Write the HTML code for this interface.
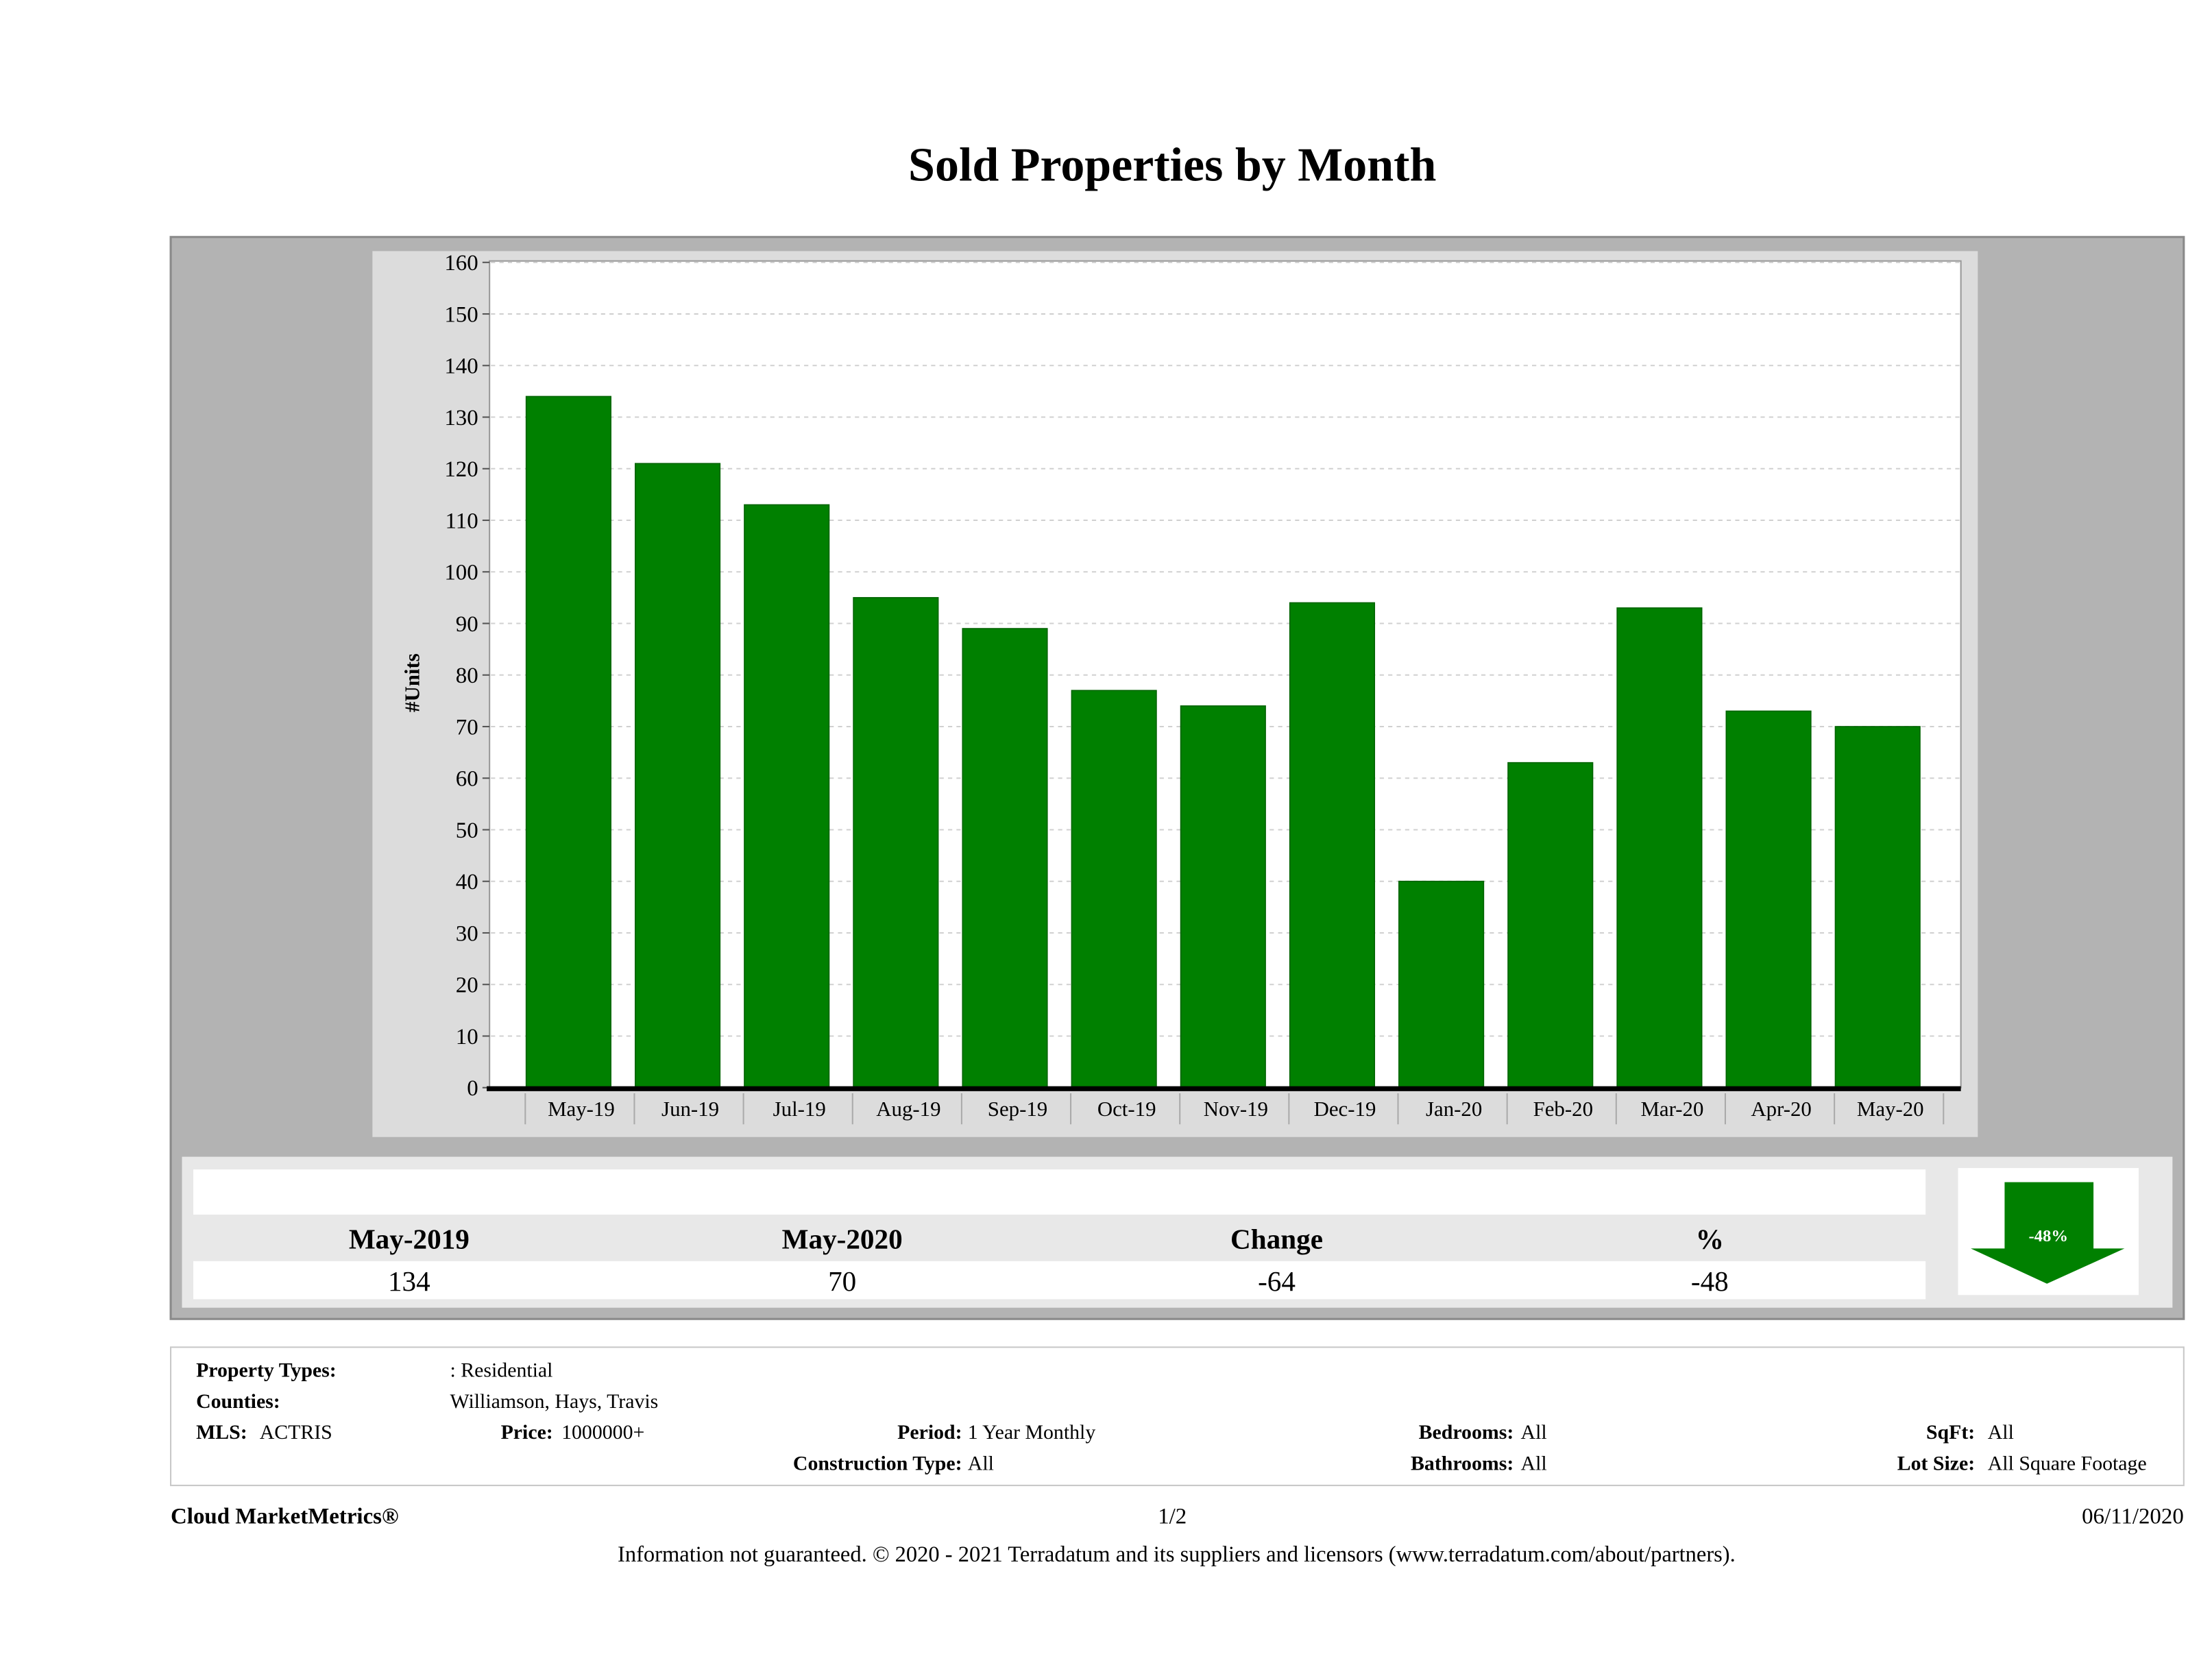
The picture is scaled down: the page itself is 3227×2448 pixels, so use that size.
<!DOCTYPE html>
<html><head><meta charset="utf-8"><style>
html,body{margin:0;padding:0;background:#fff}
svg{display:block}
text{font-family:"Liberation Serif",serif}
</style></head><body>
<svg id="chart" width="3227" height="2448" viewBox="0 0 1568 1189.5" xmlns="http://www.w3.org/2000/svg">
<text x="831" y="128" text-anchor="middle" font-size="34" font-weight="bold">Sold Properties by Month</text>
<rect x="121" y="168" width="1427" height="767" fill="#b3b3b3" stroke="#8a8a8a" stroke-width="1.5"/>
<rect x="264" y="178" width="1138" height="628" fill="#dcdcdc"/>
<rect x="347" y="185" width="1043" height="586" fill="#fff" stroke="#999" stroke-width="1"/>
<g id="grid"></g>
<g id="bars"></g>
<g id="yaxis"></g>
<g id="xaxis"></g>
<text transform="translate(297,484) rotate(-90)" text-anchor="middle" font-size="15" font-weight="bold">#Units</text>

<rect x="129" y="820" width="1411" height="107" fill="#e8e8e8"/>
<rect x="137" y="829" width="1228" height="32" fill="#fff"/>
<rect x="137" y="894" width="1228" height="27" fill="#fff"/>
<g font-size="20" font-weight="bold" text-anchor="middle">
<text x="290" y="885">May-2019</text>
<text x="597" y="885">May-2020</text>
<text x="905" y="885">Change</text>
<text x="1212" y="885">%</text>
</g>
<g font-size="20" text-anchor="middle">
<text x="290" y="915">134</text>
<text x="597" y="915">70</text>
<text x="905" y="915">-64</text>
<text x="1212" y="915">-48</text>
</g>
<rect x="1388" y="828" width="128" height="90" fill="#fff"/>
<polygon points="1421,838 1484,838 1484,885 1506,885 1451,910 1397,885 1421,885" fill="#008000"/>
<text x="1452" y="880" text-anchor="middle" font-size="12" font-weight="bold" fill="#fff">-48%</text>

<rect x="121" y="955" width="1427" height="98" fill="#fff" stroke="#c8c8c8" stroke-width="1"/>
<g font-size="14.5">
<text x="139" y="976" font-weight="bold">Property Types:</text>
<text x="319" y="976">: Residential</text>
<text x="139" y="998" font-weight="bold">Counties:</text>
<text x="319" y="998">Williamson, Hays, Travis</text>
<text x="139" y="1020" font-weight="bold">MLS:</text>
<text x="184" y="1020">ACTRIS</text>
<text x="392" y="1020" font-weight="bold" text-anchor="end">Price:</text>
<text x="398" y="1020">1000000+</text>
<text x="682" y="1020" font-weight="bold" text-anchor="end">Period:</text>
<text x="686" y="1020">1 Year Monthly</text>
<text x="1073" y="1020" font-weight="bold" text-anchor="end">Bedrooms:</text>
<text x="1078" y="1020">All</text>
<text x="1400" y="1020" font-weight="bold" text-anchor="end">SqFt:</text>
<text x="1409" y="1020">All</text>
<text x="682" y="1042" font-weight="bold" text-anchor="end">Construction Type:</text>
<text x="686" y="1042">All</text>
<text x="1073" y="1042" font-weight="bold" text-anchor="end">Bathrooms:</text>
<text x="1078" y="1042">All</text>
<text x="1400" y="1042" font-weight="bold" text-anchor="end">Lot Size:</text>
<text x="1409" y="1042">All Square Footage</text>
</g>
<text x="121" y="1080" font-size="16" font-weight="bold">Cloud MarketMetrics®</text>
<text x="831" y="1080" font-size="16" text-anchor="middle">1/2</text>
<text x="1548" y="1080" font-size="16" text-anchor="end">06/11/2020</text>
<text x="834" y="1107" font-size="15.8" text-anchor="middle">Information not guaranteed. © 2020 - 2021 Terradatum and its suppliers and licensors (www.terradatum.com/about/partners).</text>
</svg>
<script>
const categories = ["May-19","Jun-19","Jul-19","Aug-19","Sep-19","Oct-19","Nov-19","Dec-19","Jan-20","Feb-20","Mar-20","Apr-20","May-20"];
const soldUnits = [134,121,113,95,89,77,74,94,40,63,93,73,70];
const yTicks = [0,10,20,30,40,50,60,70,80,90,100,110,120,130,140,150,160];

const NS = "http://www.w3.org/2000/svg";
const plotTop = 186, plotBottom = 771, yMax = 160;
const firstCenter = 403, lastCenter = 1331, barW = 60;
function yScale(v){ return plotBottom - (v / yMax) * (plotBottom - plotTop); }
function xScale(i){ return firstCenter + i * (lastCenter - firstCenter) / (categories.length - 1); }
function mk(tag, attrs, parent){ const e = document.createElementNS(NS, tag); for (const k in attrs) e.setAttribute(k, attrs[k]); parent.appendChild(e); return e; }

const grid = document.getElementById('grid');
const yaxis = document.getElementById('yaxis');
yTicks.forEach(t => {
  const y = yScale(t);
  if (t > 0) {
    const g = mk('line', {x1:348, x2:1389, y1:y, y2:y, stroke:'#d0d0d0', 'stroke-width':1, 'stroke-dasharray':'3,3'}, grid);
    
    
  }
  const tk = mk('line', {x1:342, x2:347, y1:y, y2:y, stroke:'#555', 'stroke-width':1}, yaxis);
  
  
  const lb = mk('text', {x:339, y:y+5.5, 'text-anchor':'end', 'font-size':16}, yaxis);
  lb.textContent = t;
  
  
});

const bars = document.getElementById('bars');
soldUnits.forEach((v, i) => {
  const cx = xScale(i), y = yScale(v);
  const r = mk('rect', {x:cx - barW/2, y:y, width:barW, height:plotBottom - y, fill:'#008000', stroke:'#006400', 'stroke-width':0.8}, bars);
  
  
});

const xaxis = document.getElementById('xaxis');
const ax = mk('rect', {x:345, y:770, width:1045, height:3.5, fill:'#000'}, xaxis);


const step = (lastCenter - firstCenter) / (categories.length - 1);
categories.forEach((c, i) => {
  const cx = xScale(i);
  const sep = mk('line', {x1:cx - step/2 + 8, x2:cx - step/2 + 8, y1:775, y2:797, stroke:'#aaa', 'stroke-width':1}, xaxis);
  
  
  const t = mk('text', {x:cx + 9, y:791, 'text-anchor':'middle', 'font-size':15}, xaxis);
  t.textContent = c;
  
  
});
const lastSep = mk('line', {x1:xScale(categories.length-1) + step/2 + 8, x2:xScale(categories.length-1) + step/2 + 8, y1:775, y2:797, stroke:'#aaa', 'stroke-width':1}, xaxis);


</script>
</body></html>
